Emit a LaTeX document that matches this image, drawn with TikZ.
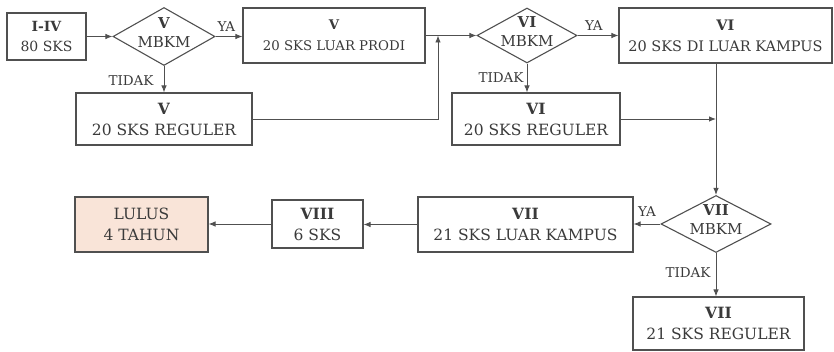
\documentclass[tikz,border=0pt]{standalone}
\usepackage{fontspec}
\setmainfont{DejaVu Serif}
\usetikzlibrary{arrows.meta,shapes.geometric}
\definecolor{ln}{HTML}{505050}
\definecolor{tx}{HTML}{3A3A3A}
\definecolor{peach}{HTML}{F9E4D8}
\newcommand{\fsz}[2]{\fontsize{#1}{#2}\selectfont}
\tikzset{
  box/.style={draw=ln,line width=1.1pt,rectangle,align=center,inner sep=0pt,text=tx,
    font=\fsz{15.5}{21}},
  dia/.style={draw=ln,line width=1.1pt,diamond,inner sep=0pt},
  dtext/.style={align=center,inner sep=0pt,text=tx,font=\fsz{15}{19}},
  lbl/.style={text=tx,font=\fsz{13.5}{15},inner sep=1pt},
  arr/.style={draw=ln,line width=0.9pt,-{Latex[length=7pt,width=5.5pt]}}
}
\begin{document}
\begin{tikzpicture}[x=1pt,y=-1pt]
\useasboundingbox (0,0) rectangle (834,352);
\node[box,font=\fsz{14}{20},minimum width=79pt,minimum height=47pt] (b14) at (46.5,36.5) {\textbf{I-IV}\\80 SKS};
\node[dia,minimum width=102pt,minimum height=58pt] (d5) at (164,36.5) {};
\node[dtext] (d5t) at (164,32.5) {\textbf{V}\\MBKM};
\node[box,font=\fsz{13.3}{21},minimum width=182pt,minimum height=55pt] (b5y) at (334,35.5) {\textbf{V}\\20 SKS LUAR PRODI};
\node[box,minimum width=176pt,minimum height=52pt] (b5n) at (164,119) {\textbf{V}\\20 SKS REGULER};
\node[dia,minimum width=100pt,minimum height=55pt] (d6) at (527,35.5) {};
\node[dtext] (d6t) at (527,31.5) {\textbf{VI}\\MBKM};
\node[box,font=\fsz{14.5}{21},minimum width=213pt,minimum height=55pt] (b6y) at (725.5,35.5) {\textbf{VI}\\20 SKS DI LUAR KAMPUS};
\node[box,minimum width=168pt,minimum height=52pt] (b6n) at (536,119) {\textbf{VI}\\20 SKS REGULER};
\node[dia,minimum width=110pt,minimum height=57pt] (d7) at (716,224) {};
\node[dtext] (d7t) at (716,220) {\textbf{VII}\\MBKM};
\node[box,minimum width=215pt,minimum height=55pt] (b7y) at (525.5,224.5) {\textbf{VII}\\21 SKS LUAR KAMPUS};
\node[box,minimum width=171pt,minimum height=53pt] (b7n) at (718.5,323.5) {\textbf{VII}\\21 SKS REGULER};
\node[box,minimum width=91pt,minimum height=48pt] (b8) at (317.5,224) {\textbf{VIII}\\6 SKS};
\node[box,fill=peach,minimum width=133pt,minimum height=55pt] (lulus) at (141.5,224.5) {LULUS\\4 TAHUN};
\coordinate (j1) at (438,35.5);
\coordinate (j2) at (b6n.east -| d7.north);
\coordinate (j3) at (b6y.south -| d7.north);
% connectors
\draw[arr] (b14.east) -- (b14.east -| d5.west);
\draw[arr] (d5.east) -- node[lbl,above=4pt,pos=0.4] {YA} (d5.east -| b5y.west);
\draw[arr] (d5.south) -- node[lbl,left=9pt,pos=0.55] {TIDAK} (d5.south |- b5n.north);
\draw[arr] (b5y.east) -- (b5y.east -| d6.west);
\draw[arr] (b5n.east) -| (j1);
\draw[arr] (d6.east) -- node[lbl,above=4pt,pos=0.4] {YA} (d6.east -| b6y.west);
\draw[arr] (d6.south) -- node[lbl,left=2pt,pos=0.5] {TIDAK} (d6.south |- b6n.north);
\draw[arr] (j3) -- (d7.north);
\draw[arr] (b6n.east) -- (j2);
\draw[arr] (d7.west) -- node[lbl,above=6pt,pos=0.5] {YA} (d7.west -| b7y.east);
\draw[arr] (d7.south) -- node[lbl,left=4pt,pos=0.45] {TIDAK} (d7.south |- b7n.north);
\draw[arr] (b7y.west) -- (b7y.west -| b8.east);
\draw[arr] (b8.west) -- (b8.west -| lulus.east);
\end{tikzpicture}
\end{document}
